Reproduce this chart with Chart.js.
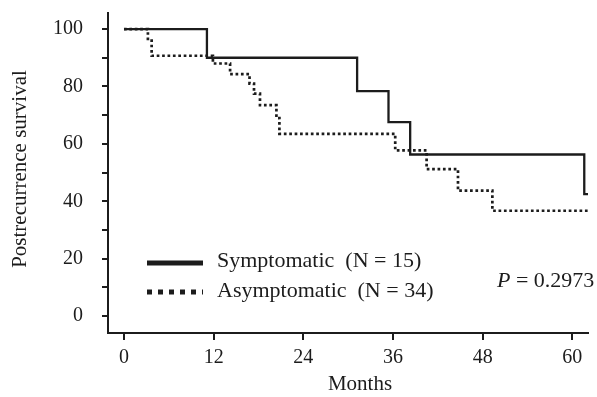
<!DOCTYPE html>
<html>
<head>
<meta charset="utf-8">
<script src="https://cdn.jsdelivr.net/npm/chart.js@4.4.0/dist/chart.umd.min.js"></script>
<style>
  html, body { margin: 0; padding: 0; background: #fff; }
  #wrap { width: 597px; height: 397px; }
</style>
</head>
<body>
<div id="wrap"><canvas id="km" width="597" height="397"></canvas></div>
<script>
// 生存曲线数据
const sympMonths = [0, 11.1, 31.2, 35.4, 38.3, 61.6, 62.1];
const sympSurv   = [100, 90, 78.4, 67.6, 56.3, 42.5, 42.5];

const asymMonths = [0, 3.2, 3.7, 11.9, 14.2, 16.8, 17.4, 18.2, 20.4, 20.8, 36.3, 40.5, 44.7, 49.3, 62.1];
const asymSurv   = [100, 96, 90.7, 88, 84.3, 81, 77.5, 73.5, 69, 63.5, 57.7, 51.2, 43.7, 36.7, 36.7];

const xTicks = [0, 12, 24, 36, 48, 60];
const yTicks = [0, 20, 40, 60, 80, 100];

const sympLabel = 'Symptomatic  (N = 15)';
const asymLabel = 'Asymptomatic  (N = 34)';
const pLabel = '0.2973';

const INK = '#1c1c1c';
const SERIF = '"Liberation Serif", "Times New Roman", serif';

function toPoints(xs, ys) {
    return xs.map((x, i) => ({ x: x, y: ys[i] }));
}

// 标题、图例和P值用插件画
const annotations = {
    id: 'annotations',
    afterDraw(chart) {
        const ctx = chart.ctx;
        ctx.save();
        ctx.fillStyle = INK;
        ctx.strokeStyle = INK;

        // y轴标题
        ctx.font = '21px ' + SERIF;
        ctx.textAlign = 'center';
        ctx.textBaseline = 'middle';
        ctx.save();
        ctx.translate(20, 169);
        ctx.rotate(-Math.PI / 2);
        ctx.fillText('Postrecurrence survival', 0, 0);
        ctx.restore();

        // x轴标题
        ctx.fillText('Months', 360, 384);

        // 图例
        ctx.lineWidth = 5;
        ctx.beginPath();
        ctx.moveTo(147, 263);
        ctx.lineTo(203, 263);
        ctx.stroke();
        ctx.setLineDash([5, 6]);
        ctx.beginPath();
        ctx.moveTo(147, 292);
        ctx.lineTo(203, 292);
        ctx.stroke();
        ctx.setLineDash([]);

        ctx.textAlign = 'left';
        ctx.font = '22px ' + SERIF;
        ctx.fillText(sympLabel, 217, 261);
        ctx.fillText(asymLabel, 217, 291);

        // P值
        ctx.font = 'italic 22px ' + SERIF;
        ctx.fillText('P', 497, 281);
        const pw = ctx.measureText('P').width;
        ctx.font = '22px ' + SERIF;
        ctx.fillText(' = ' + pLabel, 497 + pw, 281);
        ctx.restore();
    }
};

function noPad(s) {
    s.paddingTop = 0;
    s.paddingBottom = 0;
    s.paddingLeft = 0;
    s.paddingRight = 0;
}

const ctx = document.getElementById('km').getContext('2d');
const chart = new Chart(ctx, {
    type: 'line',
    data: {
        datasets: [{
            label: asymLabel,
            data: toPoints(asymMonths, asymSurv),
            borderColor: INK,
            borderWidth: 2.7,
            borderDash: [2.7, 2.7],
            borderCapStyle: 'butt',
            stepped: 'before',
            pointRadius: 0,
            fill: false,
            order: 0
        }, {
            label: sympLabel,
            data: toPoints(sympMonths, sympSurv),
            borderColor: INK,
            borderWidth: 2.3,
            stepped: 'before',
            pointRadius: 0,
            fill: false,
            order: 1
        }]
    },
    options: {
        responsive: false,
        devicePixelRatio: 1,
        animation: false,
        layout: { padding: { top: 13, right: 9, left: 0, bottom: 0 } },
        plugins: {
            legend: { display: false },
            tooltip: { enabled: false }
        },
        scales: {
            x: {
                type: 'linear',
                min: -2.14,
                max: 62.1,
                border: { color: INK, width: 2 },
                grid: { drawOnChartArea: false, drawTicks: true, tickLength: 7, color: INK, lineWidth: 2 },
                afterBuildTicks: (s) => { s.ticks = xTicks.map(v => ({ value: v })); },
                ticks: {
                    includeBounds: false,
                    color: INK,
                    font: { family: SERIF, size: 20 },
                    padding: 6,
                    maxRotation: 0
                },
                afterFit: (s) => { s.height = 64; noPad(s); }
            },
            y: {
                min: -5.9,
                max: 105.6,
                border: { color: INK, width: 2 },
                grid: { drawOnChartArea: false, drawTicks: true, tickLength: 6, color: INK, lineWidth: 2 },
                ticks: {
                    stepSize: 10,
                    includeBounds: false,
                    color: INK,
                    font: { family: SERIF, size: 20 },
                    padding: 19,
                    callback: (v) => yTicks.includes(v) ? v : ''
                },
                afterFit: (s) => { s.width = 108; noPad(s); }
            }
        }
    },
    plugins: [annotations]
});
</script>
</body>
</html>
